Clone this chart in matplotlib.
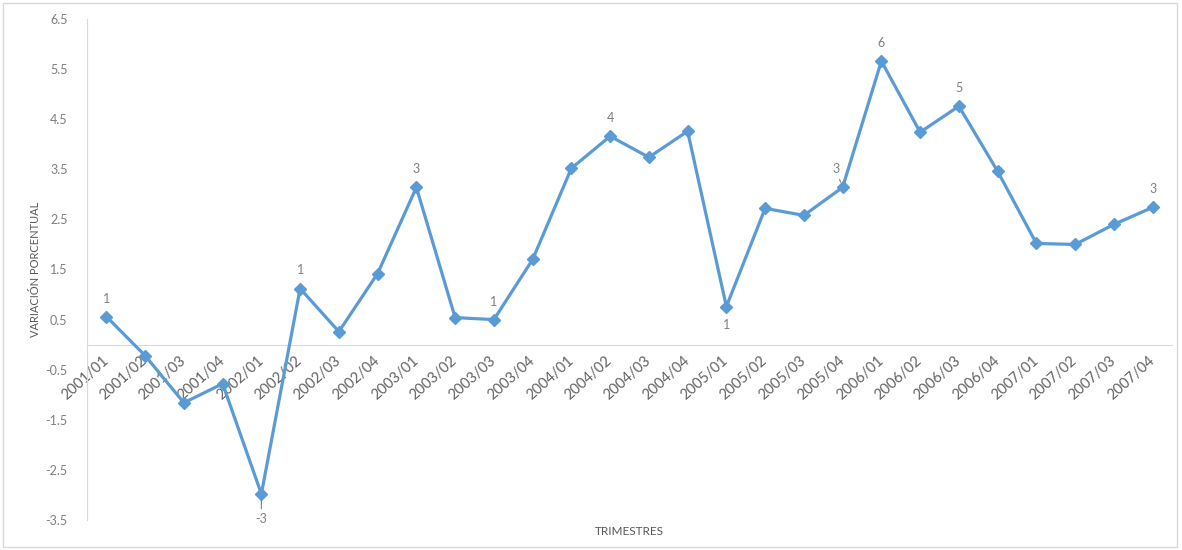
import matplotlib.pyplot as plt
from matplotlib.patches import Rectangle

plt.rcParams['font.family'] = ['Lato', 'DejaVu Sans']

# quarterly data
trimestres = ['2001/01', '2001/02', '2001/03', '2001/04',
              '2002/01', '2002/02', '2002/03', '2002/04',
              '2003/01', '2003/02', '2003/03', '2003/04',
              '2004/01', '2004/02', '2004/03', '2004/04',
              '2005/01', '2005/02', '2005/03', '2005/04',
              '2006/01', '2006/02', '2006/03', '2006/04',
              '2007/01', '2007/02', '2007/03', '2007/04']
variacion = [0.56, -0.22, -1.16, -0.78,
             -2.98, 1.12, 0.26, 1.42,
             3.14, 0.54, 0.50, 1.70,
             3.52, 4.16, 3.74, 4.26,
             0.76, 2.72, 2.58, 3.14,
             5.66, 4.24, 4.76, 3.46,
             2.02, 2.00, 2.40, 2.74]

# data labels shown on the chart (index -> text)
etiquetas = {0: '1', 4: '-3', 5: '1', 8: '3', 10: '1', 13: '4',
             16: '1', 19: '3', 20: '6', 22: '5', 27: '3'}
y_ticks = [6.5, 5.5, 4.5, 3.5, 2.5, 1.5, 0.5, -0.5, -1.5, -2.5, -3.5]

blue = '#5B9BD5'
grey_txt = '#7f7f7f'
axis_grey = '#d9d9d9'

fig = plt.figure(figsize=(11.82, 5.5), dpi=100)
ax = fig.add_axes([87/1182, 30/550, 1085/1182, 501/550])

# spines first: moving the spine resets tick label styling
ax.spines['top'].set_visible(False)
ax.spines['right'].set_visible(False)
ax.spines['bottom'].set_position(('data', 0))
ax.spines['bottom'].set_color(axis_grey)
ax.spines['left'].set_color(axis_grey)

x = list(range(len(trimestres)))
ax.plot(x, variacion, color=blue, lw=2.3, marker='D', markersize=6,
        markerfacecolor=blue, markeredgecolor=blue, zorder=3)

# label offsets in points (dx, dy); leader lines where the original has them
offsets = {4: (0, -18), 16: (0, -13), 19: (-5, 13)}
leaders = {4, 19}
for i, txt in etiquetas.items():
    dx, dy = offsets.get(i, (0, 13))
    ap = dict(arrowstyle='-', color=grey_txt, lw=0.8, shrinkA=1, shrinkB=4) if i in leaders else None
    ax.annotate(txt, (x[i], variacion[i]), xytext=(dx, dy), textcoords='offset points',
                ha='center', va='center', fontsize=9, color=grey_txt, arrowprops=ap)

ax.set_xlim(-0.5, len(trimestres) - 0.5)
ax.set_ylim(-3.5, 6.5)
ax.set_yticks(y_ticks)
ax.set_yticklabels([f'{v:.1f}' for v in y_ticks], fontsize=9, color=grey_txt)
ax.set_xticks(x)
ax.set_xticklabels(trimestres, rotation=42, ha='right', va='center',
                   rotation_mode='anchor', fontsize=10.5, color='#626262')
ax.tick_params(axis='x', length=0, pad=10)
ax.tick_params(axis='y', length=0, pad=14)

ax.set_ylabel('VARIACIÓN PORCENTUAL', fontsize=8, color='#595959')
ax.set_xlabel('TRIMESTRES', fontsize=8.5, color='#595959')
ax.xaxis.set_label_coords(0.5, -0.012)
ax.yaxis.set_label_coords(-0.042, 0.5)

fig.patches.append(Rectangle((3/1182, 3/550), 1174/1182, 544/550, transform=fig.transFigure,
                             fill=False, edgecolor=axis_grey, lw=1))

fig.savefig('out.png', dpi=100)
